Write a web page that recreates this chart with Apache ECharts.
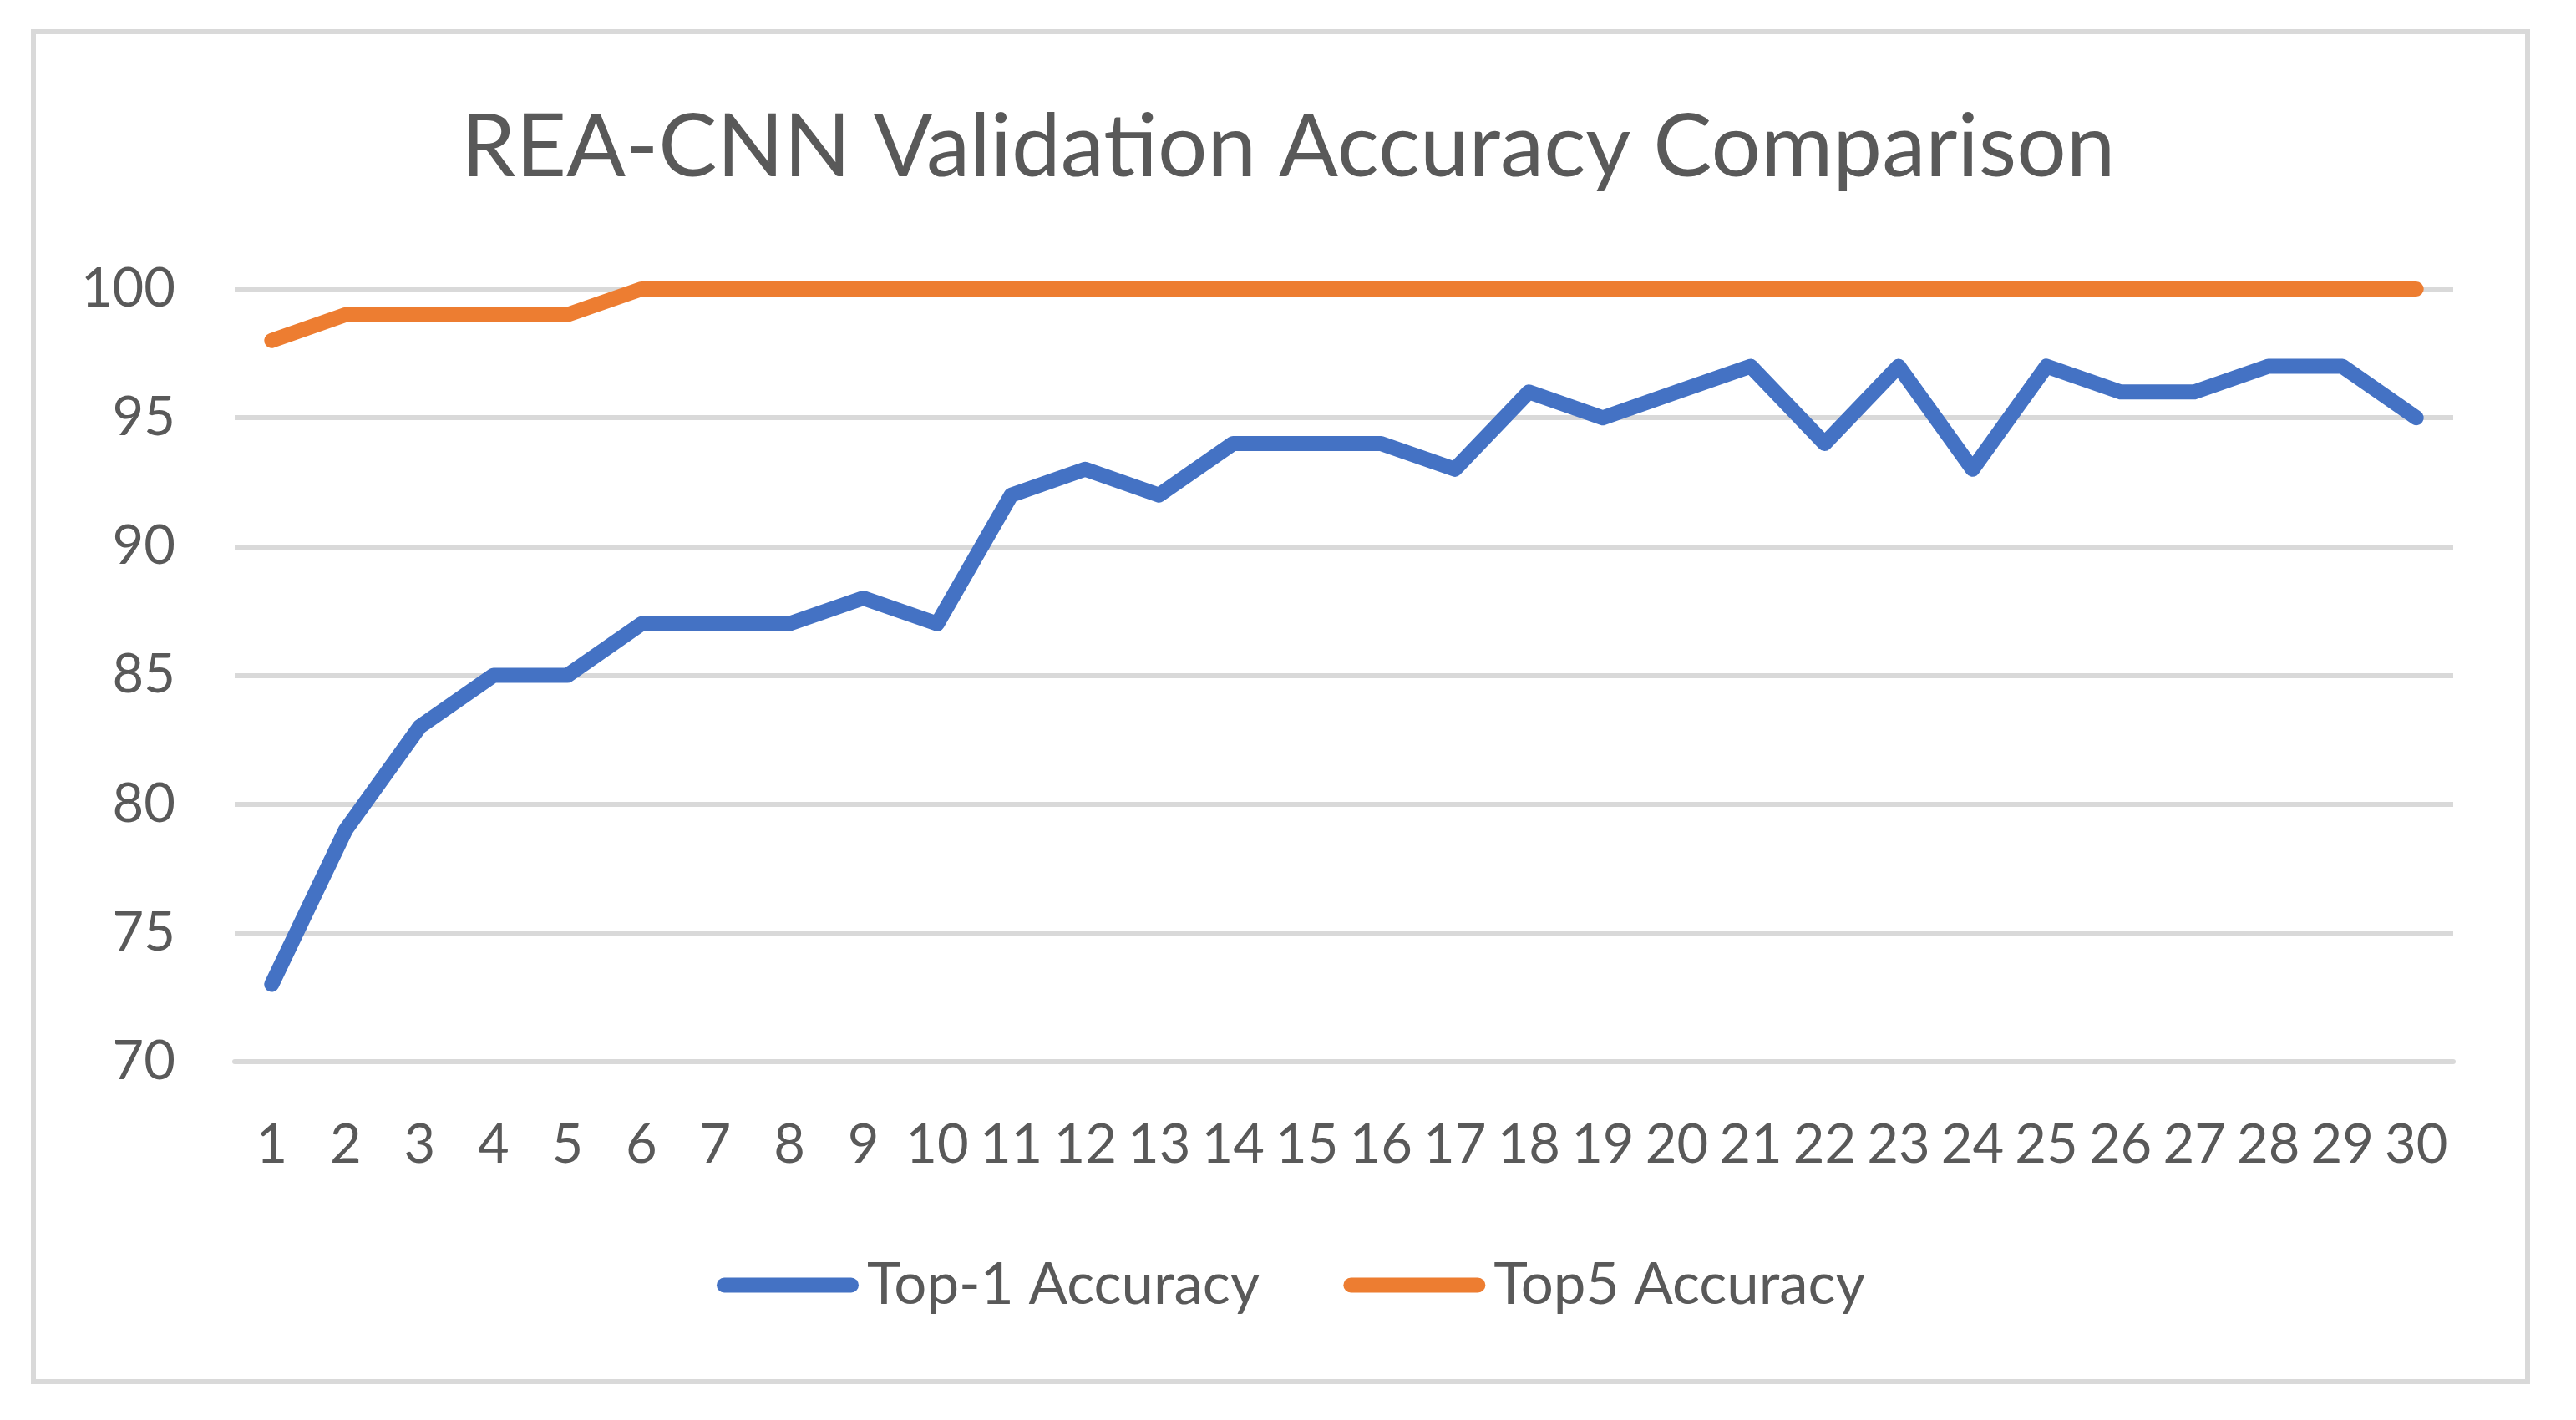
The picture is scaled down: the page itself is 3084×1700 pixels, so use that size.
<!DOCTYPE html>
<html>
<head>
<meta charset="utf-8">
<script src="https://cdn.jsdelivr.net/npm/echarts@6/dist/echarts.min.js"></script>
<style>
html,body{margin:0;padding:0;background:#fff;}
#chart{width:3084px;height:1700px;}
</style>
</head>
<body>
<div id="chart"></div>
<script>
const categories = ['1','2','3','4','5','6','7','8','9','10','11','12','13','14','15','16','17','18','19','20','21','22','23','24','25','26','27','28','29','30'];
const top1Accuracy = [73,79,83,85,85,87,87,87,88,87,92,93,92,94,94,94,93,96,95,96,97,94,97,93,97,96,96,97,97,95];
const top5Accuracy = [98,99,99,99,99,100,100,100,100,100,100,100,100,100,100,100,100,100,100,100,100,100,100,100,100,100,100,100,100,100];
const seriesNames = ['Top-1 Accuracy','Top5 Accuracy'];
const chartTitle = 'REA-CNN Validation Accuracy Comparison';

const FONT = 'Lato';
const TXT = '#595959';
const GRID = '#d9d9d9';
const legendIcon = 'path://M9,0 L161,0 A9,9 0 0 1 161,18 L9,18 A9,9 0 0 1 9,0 Z';

const chart = echarts.init(document.getElementById('chart'));
chart.setOption({
  backgroundColor: '#ffffff',
  animation: false,
  title: {
    text: chartTitle,
    left: 'center',
    top: 120,
    textStyle: {fontFamily: FONT, fontSize: 105, fontWeight: 'normal', color: TXT}
  },
  graphic: [{
    type: 'rect',
    shape: {x: 40, y: 38, width: 2986, height: 1616},
    style: {fill: 'none', stroke: GRID, lineWidth: 6}
  }],
  legend: {
    left: 853,
    top: 1499,
    itemWidth: 172,
    itemHeight: 18,
    itemGap: 100,
    icon: legendIcon,
    textStyle: {fontFamily: FONT, fontSize: 69, color: TXT, padding: [0,0,0,4]},
    data: seriesNames
  },
  grid: {left: 281, right: 147, top: 346, bottom: 429, containLabel: false},
  xAxis: {
    type: 'category',
    data: categories,
    boundaryGap: true,
    axisLine: {show: true, lineStyle: {color: GRID, width: 6}},
    axisTick: {show: false},
    axisLabel: {fontFamily: FONT, fontSize: 65, color: TXT, margin: 68, interval: 0}
  },
  yAxis: {
    type: 'value',
    min: 70, max: 100, interval: 5,
    axisLine: {show: false},
    axisTick: {show: false},
    axisLabel: {fontFamily: FONT, fontSize: 65, color: TXT, margin: 71},
    splitLine: {lineStyle: {color: GRID, width: 6}}
  },
  series: [
    {
      name: seriesNames[0], type: 'line', data: top1Accuracy,
      symbol: 'none', color: '#4472C4',
      lineStyle: {width: 18, color: '#4472C4', cap: 'round', join: 'round'}
    },
    {
      name: seriesNames[1], type: 'line', data: top5Accuracy,
      symbol: 'none', color: '#ED7D31',
      lineStyle: {width: 18, color: '#ED7D31', cap: 'round', join: 'round'}
    }
  ]
});
</script>
</body>
</html>
